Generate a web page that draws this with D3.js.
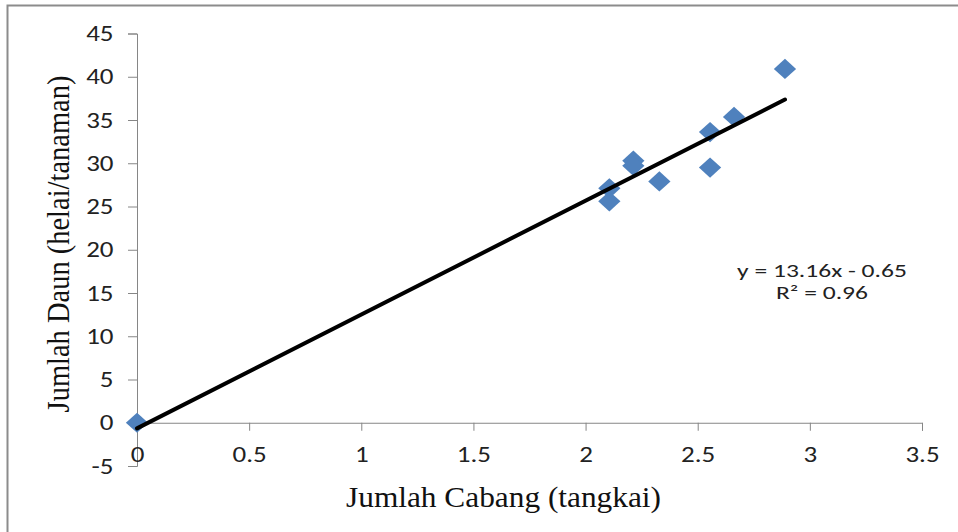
<!DOCTYPE html>
<html>
<head>
<meta charset="utf-8">
<script src="https://cdn.jsdelivr.net/npm/d3@7"></script>
<style>
  body { margin: 0; background: #fff; }
  svg { display: block; }
</style>
</head>
<body>
<div id="chart"></div>
<script>
// jumlah cabang (x) vs jumlah daun (y)
const cabang = [0, 2.106, 2.106, 2.213, 2.213, 2.329, 2.555, 2.555, 2.662, 2.889];
const daun = [0, 27.1, 25.6, 30.3, 29.7, 27.9, 33.6, 29.5, 35.35, 40.9];

// trendline from the equation label
const slope = 13.16;
const intercept = -0.65;
const eqLines = ["y = 13.16x - 0.65", "R\u00b2 = 0.96"];

const xTicks = [0, 0.5, 1, 1.5, 2, 2.5, 3, 3.5];
const yTicks = [-5, 0, 5, 10, 15, 20, 25, 30, 35, 40, 45];

const width = 958;
const height = 532;
const tickFont = "Carlito, Calibri, 'Open Sans', sans-serif";
const titleFont = "'Liberation Serif', 'Times New Roman', serif";
const stretch = 1.2; // the picture is a bit wider than tall

const x = d3.scaleLinear().domain([0, 3.5]).range([137, 922]);
const y = d3.scaleLinear().domain([-5, 45]).range([466, 33.5]);

const svg = d3.create("svg").attr("width", width).attr("height", height);

// outer frame (cut off at right and bottom)
svg
  .append("rect")
  .attr("x", 7.5)
  .attr("y", 5.5)
  .attr("width", 970)
  .attr("height", 560)
  .attr("fill", "none")
  .attr("stroke", "#8c8c8c")
  .attr("stroke-width", 2);

// y axis
const yAxis = svg
  .append("g")
  .attr("transform", `translate(${x(0)},0)`)
  .call(d3.axisLeft(y).tickValues(yTicks).tickSize(9).tickSizeOuter(9).tickFormat((d) => `${d}`));

// x axis sits on y = 0
const xAxis = svg
  .append("g")
  .attr("transform", `translate(0,${y(0)})`)
  .call(d3.axisBottom(x).tickValues(xTicks).tickSize(8).tickSizeOuter(8).tickFormat((d) => `${d}`));

[yAxis, xAxis].forEach((g) => {
  g.select(".domain").attr("stroke", "#868686");
  g.selectAll(".tick line").attr("stroke", "#868686");
  g.selectAll("text")
    .attr("fill", "#222")
    .style("font-family", tickFont)
    .style("font-size", "22.5px");
});

yAxis.selectAll("text").attr("x", null).attr("transform", `translate(-23.5,0) scale(${stretch},1)`);
xAxis.selectAll("text").attr("y", 23.5).attr("transform", `scale(${stretch},1)`);

// data points, diamonds
svg
  .append("g")
  .attr("fill", "#4F81BD")
  .selectAll("path")
  .data(cabang.map((c, i) => [c, daun[i]]))
  .join("path")
  .attr("d", d3.symbol(d3.symbolSquare, 205))
  .attr("transform", (d) => `translate(${x(d[0])},${y(d[1])}) scale(1.1,1) rotate(45)`);

// linear trendline, over the range of the data
const xExt = d3.extent(cabang);
svg
  .append("line")
  .attr("x1", x(xExt[0]))
  .attr("y1", y(slope * xExt[0] + intercept))
  .attr("x2", x(xExt[1]))
  .attr("y2", y(slope * xExt[1] + intercept))
  .attr("stroke", "#000")
  .attr("stroke-width", 4)
  .attr("stroke-linecap", "round");

// equation label, two lines
svg
  .append("g")
  .selectAll("text")
  .data(eqLines)
  .join("text")
  .attr("transform", (d, i) => `translate(822,${276.5 + i * 22}) scale(1.42,1)`)
  .attr("text-anchor", "middle")
  .attr("fill", "#222")
  .style("font-family", tickFont)
  .style("font-size", "18px")
  .text((d) => d);

// axis titles
svg
  .append("text")
  .attr("transform", `translate(503.5,507) scale(1.1,1)`)
  .attr("text-anchor", "middle")
  .attr("fill", "#111")
  .style("font-family", titleFont)
  .style("font-size", "28.5px")
  .text("Jumlah Cabang (tangkai)");

svg
  .append("text")
  .attr("transform", `translate(69,244) scale(1.1,1) rotate(-90)`)
  .attr("text-anchor", "middle")
  .attr("fill", "#111")
  .style("font-family", titleFont)
  .style("font-size", "28.5px")
  .text("Jumlah Daun (helai/tanaman)");

document.getElementById("chart").append(svg.node());
</script>
</body>
</html>
